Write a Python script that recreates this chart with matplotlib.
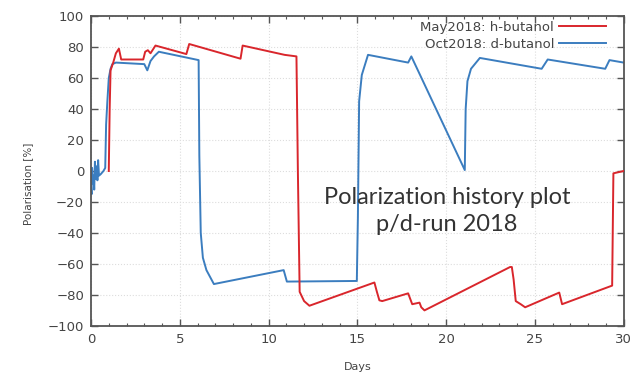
import matplotlib
matplotlib.use("Agg")
import matplotlib.pyplot as plt
from matplotlib.ticker import MultipleLocator

# May2018: h-butanol (red)
may_days = [1.00, 1.05, 1.10, 1.25, 1.40, 1.57, 1.70, 1.80, 2.94, 3.05, 3.20, 3.35, 3.63,
            5.37, 5.53, 8.42, 8.54, 10.90, 11.57, 11.65, 11.75, 12.00, 12.30,
            15.96, 16.10, 16.24, 16.40, 17.86, 18.09, 18.50, 18.60, 18.78,
            23.60, 23.70, 23.80, 23.92, 24.20, 24.45, 26.37, 26.53, 29.35, 29.42, 30.00]
may_pol = [0.0, 40.0, 65.0, 70.0, 76.0, 79.0, 72.0, 72.0, 72.0, 77.0, 78.0, 76.0, 81.0,
           75.5, 82.0, 72.5, 81.0, 75.0, 74.0, 0.0, -78.0, -84.0, -87.0,
           -72.0, -78.0, -83.5, -84.0, -79.0, -86.0, -85.0, -88.0, -90.0,
           -62.0, -62.0, -70.0, -84.0, -86.0, -88.0, -78.5, -86.0, -74.0, -1.5, 0.0]

# Oct2018: d-butanol (blue)
oct_days = [0.00, 0.03, 0.06, 0.10, 0.14, 0.18, 0.22, 0.27, 0.32, 0.36, 0.40, 0.45, 0.55, 0.70, 0.80,
            0.85, 0.92, 1.00, 1.10, 1.20, 1.40, 3.00, 3.17, 3.35, 3.55, 3.82,
            6.06, 6.10, 6.18, 6.30, 6.50, 6.92, 10.85, 11.03, 14.97, 15.03, 15.10, 15.25,
            15.60, 17.86, 18.04, 21.05, 21.10, 21.20, 21.40, 21.90, 25.38, 25.72,
            28.96, 29.20, 30.00]
oct_pol = [-10.0, -15.0, 2.0, -8.0, -3.0, -12.0, 6.0, -5.0, 3.0, -6.0, 7.0, -3.0, -2.0, 0.0, 2.0,
           30.0, 45.0, 60.0, 66.0, 69.0, 70.0, 69.0, 65.0, 71.0, 74.0, 77.0,
           71.6, 10.0, -40.0, -56.0, -64.0, -73.0, -64.0, -71.4, -71.0, -30.0, 45.0, 62.0,
           75.0, 70.0, 74.0, 0.6, 40.0, 58.0, 66.0, 73.0, 66.0, 72.0,
           66.0, 71.6, 70.0]

x_ticks = [0, 5, 10, 15, 20, 25, 30]
y_ticks = [-100, -80, -60, -40, -20, 0, 20, 40, 60, 80, 100]

fig = plt.figure(figsize=(6.41, 3.75), dpi=100)
ax = fig.add_axes([0.142, 0.131, 0.831, 0.826])

red = "#d9262c"
blue = "#3b7dbf"
ax.plot(may_days, may_pol, color=red, lw=1.4, label="May2018: h-butanol", zorder=3)
ax.plot(oct_days, oct_pol, color=blue, lw=1.4, label="Oct2018: d-butanol", zorder=2)

ax.set_xlim(0, 30)
ax.set_ylim(-100, 100)
ax.set_xticks(x_ticks)
ax.set_yticks(y_ticks)
ax.xaxis.set_minor_locator(MultipleLocator(1))
ax.tick_params(which="both", direction="in", top=True, right=True, colors="#555555",
               labelcolor="#444444", labelsize=9.5)
ax.tick_params(which="major", length=5, width=1, pad=5)
ax.tick_params(which="minor", length=2.5, width=0.8)
for s in ax.spines.values():
    s.set_color("#555555")
    s.set_linewidth(1.3)
ax.grid(True, which="major", color="#dddddd", linestyle=":", linewidth=0.8)

ax.set_xlabel("Days", fontsize=8, color="#444444", va="center")
ax.xaxis.set_label_coords(0.5, -0.133)
ax.set_ylabel("Polarisation [%]", fontsize=7.5, color="#444444")
ax.yaxis.set_label_coords(-0.109, 0.458)

leg = ax.legend(loc="upper right", bbox_to_anchor=(0.966, 0.985), frameon=False,
                fontsize=9.5, markerfirst=False, handlelength=3.5, handletextpad=0.4,
                borderaxespad=0, borderpad=0, labelspacing=0.32)
for t in leg.get_texts():
    t.set_color("#444444")

ax.text(20.05, -25.8, "Polarization history plot\np/d-run 2018", ha="center", va="center",
        fontsize=17, family="Lato", color="#333333", linespacing=1.3)

fig.savefig("out.png", dpi=100)
